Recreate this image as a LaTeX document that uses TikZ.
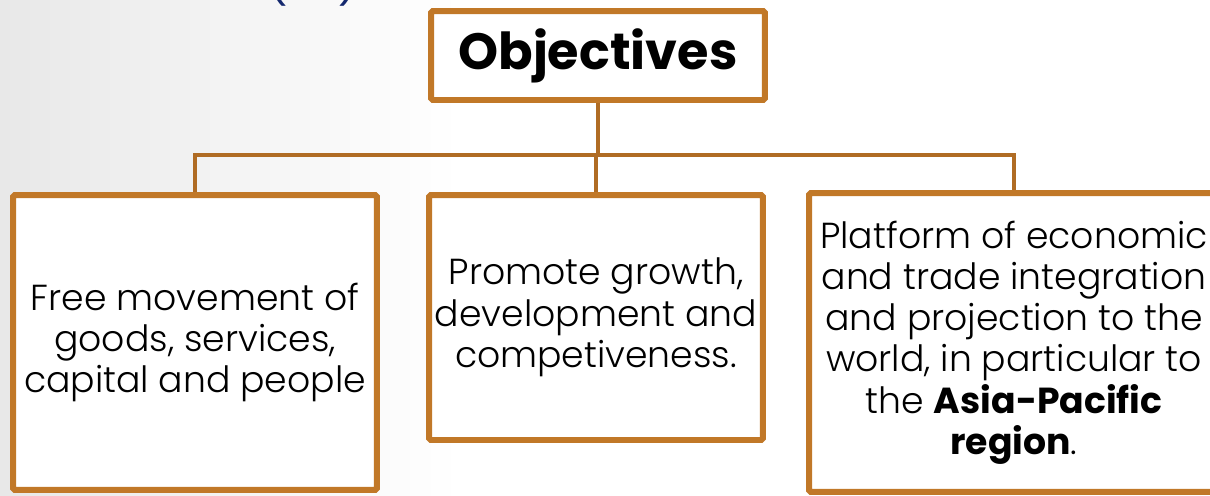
\documentclass[tikz,border=0pt]{standalone}
\usepackage{fontspec}
\setmainfont{Poppins}[UprightFont=* Light,BoldFont=* Bold]
\usepackage{tikz}
\usetikzlibrary{positioning,calc}
\usepackage{xcolor}
\definecolor{objorange}{RGB}{193,120,40}
\definecolor{linkbrown}{RGB}{176,108,36}
\definecolor{titlenavy}{RGB}{20,40,110}

\begin{document}
\begin{tikzpicture}[x=0.02cm,y=-0.02cm,
    objbox/.style={draw=objorange,line width=3.4pt,fill=white,rounded corners=1pt,
                   align=center,inner sep=0pt,font=\fontsize{20.6}{23.5}\selectfont},
    link/.style={draw=linkbrown,line width=2.8pt}]
                    \useasboundingbox (0,0) rectangle (1210,495);
                    \shade[left color=black!9,right color=white] (0,0) rectangle (460,495);
                    \fill[white] (460,0) rectangle (1210,495);
                    \node[anchor=south,inner sep=0pt,text=titlenavy,font=\fontsize{30}{32}\selectfont] (title) at (313,7) {(\hspace{28pt})};
                    % objective boxes
                    \node[objbox,minimum width=6.68cm,minimum height=1.78cm,font=\bfseries\fontsize{29}{31}\selectfont] (obj) at (598,55.5) {Objectives};
                    \node[objbox,minimum width=7.28cm,minimum height=5.9cm] (free) at (195,342.5)
                        {Free movement of\\goods, services,\\capital and people};
                    \node[objbox,minimum width=6.68cm,minimum height=4.9cm] (grow) at (596,317.5)
                        {Promote growth,\\development and\\competiveness.};
                    \node[objbox,minimum width=8.2cm,minimum height=5.98cm] (asia) at (1014,342.5)
                        {Platform of economic\\and trade integration\\and  projection to the\\world, in particular to\\the \textbf{Asia-Pacific}\\\textbf{region}.};
                    % connectors
                    \coordinate (bar) at (0,155);
                    \draw[link] (obj.south) -- (obj.south |- bar);
                    \draw[link] (free.north) -- (free.north |- bar) -| (asia.north);
                    \draw[link] (grow.north) -- (grow.north |- bar);
                \end{tikzpicture}
\end{document}
